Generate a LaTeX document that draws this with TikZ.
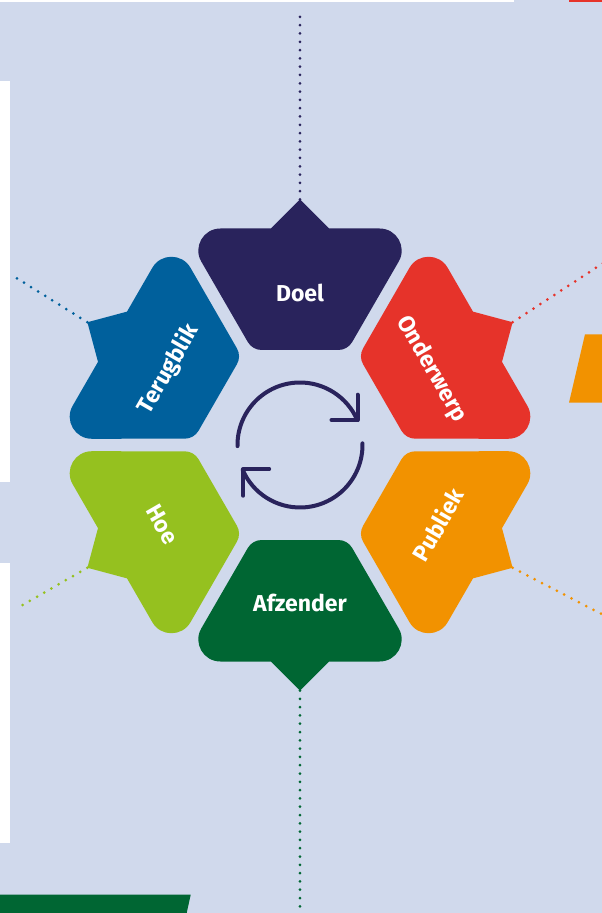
\documentclass[tikz,border=0pt]{standalone}
\usepackage{xcolor}
\usepackage{fontspec}
\setsansfont{Fira Sans}
\definecolor{achter}{HTML}{D0D9EC}
\definecolor{doelkl}{HTML}{29235C}
\definecolor{onderwerpkl}{HTML}{E6332A}
\definecolor{publiekkl}{HTML}{F29200}
\definecolor{afzenderkl}{HTML}{006633}
\definecolor{hoekl}{HTML}{95C11F}
\definecolor{terugblikkl}{HTML}{00609C}

% een blad van de ring, #1 = rotatie, #2 = kleur
\newcommand{\blad}[2]{%
\fill[#2, rotate=#1] (-29,216.5) -- (0,245.5) -- (29,216.5) -- (79.7,216.5)
 .. controls (96.6,216.5) and (107.2,198.1) .. (98.75,183.5) -- (52.2,103)
 .. controls (49.35,98.1) and (44.1,95) .. (38.4,95) -- (-38.4,95)
 .. controls (-44.1,95) and (-49.35,98.1) .. (-52.2,103) -- (-98.75,183.5)
 .. controls (-107.2,198.1) and (-96.6,216.5) .. (-79.7,216.5) -- cycle;}

\begin{document}
\begin{tikzpicture}[x=1pt, y=1pt,
 stip/.style={line width=3pt, line cap=round, dash pattern=on 0pt off 8.3pt},
 woord/.style={text=white, inner sep=0pt, font=\sffamily\bfseries\fontsize{23}{23}\selectfont},
 pijl/.style={doelkl, line width=4pt, line cap=round, line join=round}] % midden van de ring is (0,0)

\useasboundingbox (-300,-468) rectangle (302,445);
\clip (-300,-468) rectangle (302,445);
\fill[achter] (-300,-468) rectangle (302,445);

% randen
\fill[white] (-300,445) rectangle (214,442.7);
\fill[onderwerpkl] (269,445) rectangle (302,442.7);
\fill[white] (-300,363.6) rectangle (-290,-37.4);
\fill[white] (-300,-117.5) rectangle (-290,-398);
\fill[publiekkl] (285,110.7) -- (302,110.7) -- (302,42.3) -- (269,42.3) -- cycle;
\fill[afzenderkl] (-300,-449.7) -- (-109.3,-449.7) -- (-113.3,-468) -- (-300,-468) -- cycle;

% punten en stippellijnen
\coordinate (D) at (90:245.5);
\coordinate (O) at (30:245.5);
\coordinate (P) at (-30:245.5);
\coordinate (A) at (-90:245.5);
\coordinate (H) at (210:245.5);
\coordinate (T) at (150:245.5);
\coordinate (D1) at (0,434);
\coordinate (O1) at (310,186.4);
\coordinate (P1) at (310,-173.4);
\coordinate (A1) at (0,-475);
\coordinate (H1) at (-281.7,-162.5);
\coordinate (T1) at (-284.3,167.5);
\draw[stip, doelkl] (D) -- (D1);
\draw[stip, onderwerpkl] (O) -- (O1);
\draw[stip, publiekkl] (P) -- (P1);
\draw[stip, afzenderkl] (A) -- (A1);
\draw[stip, hoekl] (H) -- (H1);
\draw[stip, terugblikkl] (T) -- (T1);

\blad{0}{doelkl}
\blad{-60}{onderwerpkl}
\blad{-120}{publiekkl}
\blad{180}{afzenderkl}
\blad{120}{hoekl}
\blad{60}{terugblikkl}

\node[woord] (doel) at (90:152) {Doel};
\node[woord, rotate=-60] (onderwerp) at (30:152) {Onderwerp};
\node[woord, rotate=60] (publiek) at (-30:159) {Publiek};
\node[woord] (afzender) at (-90:158) {Afzender};
\node[woord, rotate=-60] (hoe) at (210:159) {Hoe};
\node[woord, rotate=60] (terugblik) at (150:152) {Terugblik};

% kringloop
\draw[pijl] (181:62.5) arc[start angle=181, end angle=23.5, radius=62.5];
\draw[pijl] (57.5,50.3) -- (57.5,25) -- (31.5,25);
\draw[pijl] (1.5:62.5) arc[start angle=1.5, end angle=-156.5, radius=62.5];
\draw[pijl] (-56.8,-50.7) -- (-56.8,-24) -- (-30.8,-24);
\end{tikzpicture}
\end{document}
